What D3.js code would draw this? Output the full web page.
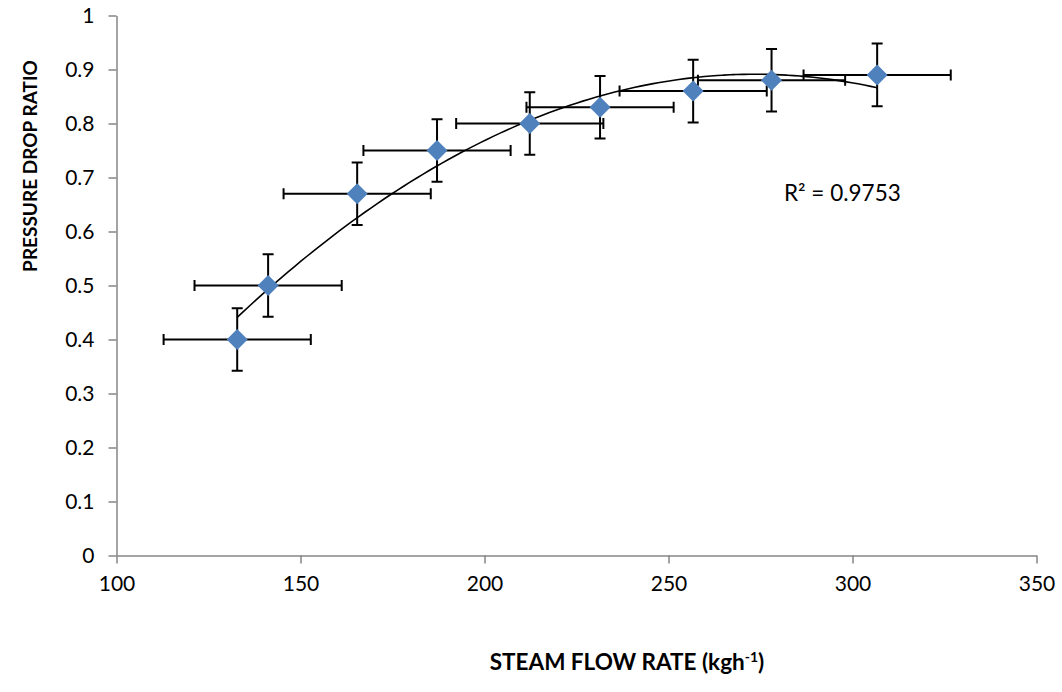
<!DOCTYPE html>
<html>
<head>
<meta charset="utf-8">
<script src="https://cdn.jsdelivr.net/npm/d3@7"></script>
<style>
  body { margin: 0; background: #fff; }
  text { font-family: Lato, "Open Sans", sans-serif; }
</style>
</head>
<body>
<script>
// measured points
const flowRate = [132.8, 141.2, 165.4, 187.1, 212.3, 231.4, 256.7, 278.0, 306.7];
const pressureRatio = [0.40, 0.50, 0.67, 0.75, 0.80, 0.83, 0.86, 0.88, 0.89];
const xErr = [20, 20, 20, 20, 20, 20, 20, 20, 20];
const yErr = [0.058, 0.058, 0.058, 0.058, 0.058, 0.058, 0.058, 0.058, 0.058];
const xTicks = [100, 150, 200, 250, 300, 350];
const yTicks = [0, 0.1, 0.2, 0.3, 0.4, 0.5, 0.6, 0.7, 0.8, 0.9, 1];
const r2Label = "R² = 0.9753";

const W = 1062, H = 692;
const margin = { top: 15.5, right: 25.5, bottom: 136.5, left: 116.5 };
const width = W - margin.left - margin.right;
const height = H - margin.top - margin.bottom;

const svg = d3.select("body").append("svg")
    .attr("width", W)
    .attr("height", H);

const g = svg.append("g")
    .attr("transform", `translate(${margin.left}, ${margin.top})`);

const x = d3.scaleLinear().domain([100, 350]).range([0, width]);
const y = d3.scaleLinear().domain([0, 1]).range([height, 0]);

// axes
const xAxis = d3.axisBottom(x).tickValues(xTicks).tickSize(8).tickSizeOuter(0).tickPadding(11);
const yAxis = d3.axisLeft(y).tickValues(yTicks).tickSize(8).tickSizeOuter(0).tickPadding(14)
    .tickFormat(d => d3.format("")(+d.toFixed(1)));

const gx = g.append("g").attr("transform", `translate(0, ${height})`).call(xAxis);
const gy = g.append("g").call(yAxis);

[gx, gy].forEach(a => {
    a.select(".domain").attr("stroke", "#868686").attr("stroke-width", 1.5);
    a.selectAll(".tick line").attr("stroke", "#868686").attr("stroke-width", 1.5);
    a.selectAll(".tick text").attr("fill", "#000").style("font-size", "21px")
        .style("font-family", "Lato, 'Open Sans', sans-serif");
});
gx.selectAll(".tick text").attr("dy", "0.8em");
gy.selectAll(".tick text").attr("dy", "0.35em");

// axis titles
const xt = svg.append("text")
    .attr("x", 627).attr("y", 670)
    .attr("text-anchor", "middle")
    .style("font-size", "22.5px").style("font-weight", "bold");
xt.append("tspan").text("STEAM FLOW RATE (kgh");
xt.append("tspan").attr("baseline-shift", "super").style("font-size", "14px").text("-1");
xt.append("tspan").text(")");

svg.append("text")
    .attr("transform", "translate(37, 166) rotate(-90)")
    .attr("text-anchor", "middle")
    .style("font-size", "19px").style("font-weight", "bold")
    .text("PRESSURE DROP RATIO");

// quadratic least-squares trendline from the points
function quadFit(xs, ys) {
    let S = [0, 0, 0, 0, 0], T = [0, 0, 0];
    xs.forEach((xv, i) => {
        for (let k = 0; k < 5; k++) S[k] += Math.pow(xv, k);
        for (let k = 0; k < 3; k++) T[k] += Math.pow(xv, k) * ys[i];
    });
    const M = [[S[0], S[1], S[2], T[0]], [S[1], S[2], S[3], T[1]], [S[2], S[3], S[4], T[2]]];
    for (let c = 0; c < 3; c++) {
        for (let r = c + 1; r < 3; r++) {
            const f = M[r][c] / M[c][c];
            for (let k = c; k < 4; k++) M[r][k] -= f * M[c][k];
        }
    }
    const b = [0, 0, 0];
    for (let r = 2; r >= 0; r--) {
        let s = M[r][3];
        for (let k = r + 1; k < 3; k++) s -= M[r][k] * b[k];
        b[r] = s / M[r][r];
    }
    return b;
}
const coef = quadFit(flowRate, pressureRatio);
const xMin = d3.min(flowRate), xMax = d3.max(flowRate);
const trend = d3.range(0, 101).map(i => {
    const xv = xMin + (xMax - xMin) * i / 100;
    return [xv, coef[0] + coef[1] * xv + coef[2] * xv * xv];
});

const data = flowRate.map((d, i) => ({ x: d, y: pressureRatio[i], ex: xErr[i], ey: yErr[i] }));

// error bars
const cap = 5.5;
const eb = g.append("g").attr("stroke", "#000").attr("stroke-width", 2).attr("fill", "none");
data.forEach(d => {
    const px = x(d.x), py = y(d.y);
    const x0 = x(d.x - d.ex), x1 = x(d.x + d.ex);
    const y0 = y(d.y - d.ey), y1 = y(d.y + d.ey);
    eb.append("path").attr("d",
        `M${x0},${py}H${x1}M${x0},${py - cap}V${py + cap}M${x1},${py - cap}V${py + cap}` +
        `M${px},${y0}V${y1}M${px - cap},${y0}H${px + cap}M${px - cap},${y1}H${px + cap}`);
});

// trendline
g.append("path")
    .datum(trend)
    .attr("fill", "none")
    .attr("stroke", "#000")
    .attr("stroke-width", 1.6)
    .attr("d", d3.line().x(d => x(d[0])).y(d => y(d[1])).curve(d3.curveBasis));

// markers
g.selectAll(".pt")
    .data(data)
    .enter().append("path")
    .attr("class", "pt")
    .attr("transform", d => `translate(${x(d.x)}, ${y(d.y)})`)
    .attr("d", "M0,-10.5L10.5,0L0,10.5L-10.5,0Z")
    .attr("fill", "#4F81BD");

svg.append("text")
    .attr("x", 784).attr("y", 201)
    .style("font-size", "22.5px")
    .text(r2Label);
</script>
</body>
</html>
